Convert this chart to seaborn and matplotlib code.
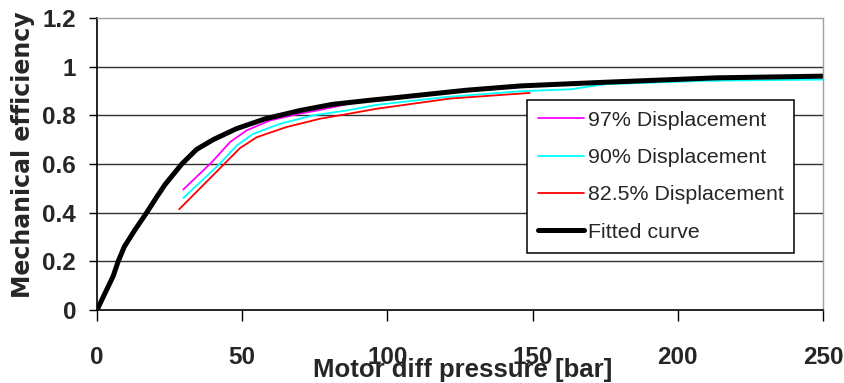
import matplotlib
matplotlib.use("Agg")
import matplotlib.pyplot as plt
import seaborn as sns
from matplotlib import font_manager

# ---- data ----
fit_pressure = [0, 2.8, 5.6, 7.3, 9.4, 13.1, 17.1, 20.6, 23.4, 29.2, 34.3, 40, 48, 58, 70, 81,
                94, 104, 127, 146, 173, 194, 213, 250]
fit_eff = [0, 0.07, 0.14, 0.20, 0.26, 0.33, 0.40, 0.465, 0.515, 0.60, 0.66, 0.70, 0.745, 0.786,
           0.82, 0.845, 0.862, 0.874, 0.903, 0.921, 0.935, 0.945, 0.954, 0.961]

d97_pressure = [29.7, 39.5, 45.8, 51.5, 59.6, 69.9, 76.8, 90, 110, 130, 150]
d97_eff = [0.495, 0.607, 0.69, 0.738, 0.779, 0.807, 0.822, 0.856, 0.886, 0.905, 0.918]

d90_pressure = [29.7, 42.2, 48.1, 53.8, 63, 74.5, 86, 96.3, 120, 145.7, 163, 175, 210, 250]
d90_eff = [0.46, 0.60, 0.676, 0.724, 0.765, 0.80, 0.82, 0.843, 0.875, 0.899, 0.907, 0.928, 0.942, 0.947]

d825_pressure = [28.3, 43.8, 49.2, 55, 65.3, 76.8, 86, 96.3, 121.6, 149]
d825_eff = [0.414, 0.60, 0.665, 0.71, 0.752, 0.786, 0.805, 0.827, 0.869, 0.892]

series_labels = ["97% Displacement", "90% Displacement", "82.5% Displacement", "Fitted curve"]
x_ticks = [0, 50, 100, 150, 200, 250]
y_ticks = [0, 0.2, 0.4, 0.6, 0.8, 1.0, 1.2]
y_tick_labels = ["0", "0.2", "0.4", "0.6", "0.8", "1", "1.2"]
x_label = "Motor diff pressure [bar]"
y_label = "Mechanical efficiency"

# ---- style ----
sns.set_style("white")
names = {f.name for f in font_manager.fontManager.ttflist}
narrow = None
for n in ["Liberation Sans Narrow", "DejaVu Sans Condensed"]:
    if n in names:
        narrow = n
        break
plt.rcParams["font.family"] = ["Liberation Sans", "DejaVu Sans"]

fig = plt.figure(figsize=(8.45, 3.83), dpi=100)
W, H = 845, 383
L, R, T, B = 97, 823, 18, 310
ax = fig.add_axes([L / W, 1 - B / H, (R - L) / W, (B - T) / H])

sns.lineplot(x=d97_pressure, y=d97_eff, ax=ax, color="#FF00FF", lw=1.3, label=series_labels[0],
             sort=False, estimator=None)
sns.lineplot(x=d90_pressure, y=d90_eff, ax=ax, color="#00FFFF", lw=1.3, label=series_labels[1],
             sort=False, estimator=None)
sns.lineplot(x=d825_pressure, y=d825_eff, ax=ax, color="#FF0000", lw=1.3, label=series_labels[2],
             sort=False, estimator=None)
sns.lineplot(x=fit_pressure, y=fit_eff, ax=ax, color="black", lw=3.6, label=series_labels[3],
             sort=False, estimator=None)

ax.set_xlim(0, 250)
ax.set_ylim(0, 1.2)
ax.set_xticks(x_ticks)
ax.set_yticks(y_ticks)
ax.set_yticklabels(y_tick_labels)

for y in y_ticks[1:-1]:
    ax.axhline(y, color="#303030", lw=1.0, zorder=0.5)

for s in ["left", "bottom"]:
    ax.spines[s].set_color("black")
    ax.spines[s].set_linewidth(1.2)
for s in ["top", "right"]:
    ax.spines[s].set_color("#a0a0a0")
    ax.spines[s].set_linewidth(1.0)

ax.tick_params(axis="y", direction="out", length=6, width=1.0, color="black", pad=9, left=True)
ax.tick_params(axis="x", direction="out", length=8, width=1.0, color="black", pad=18, bottom=True)

if narrow:
    xt_font = dict(family=narrow, weight="bold", size=20)
    xl_font = dict(family=narrow, weight="bold", size=22)
else:
    xt_font = dict(family="Liberation Sans", weight="bold", size=17.5)
    xl_font = dict(family="Liberation Sans", weight="bold", size=18.5)

for lab in ax.get_xticklabels():
    lab.set_fontproperties(font_manager.FontProperties(**xt_font))
for lab in ax.get_yticklabels():
    lab.set_fontproperties(font_manager.FontProperties(family="Liberation Sans", weight="bold", size=17.5))

ax.set_xlabel(x_label, fontproperties=font_manager.FontProperties(**xl_font), va="baseline")
ax.xaxis.set_label_coords((463 - L) / (R - L), (B - 377) / (B - T))
ax.set_ylabel(y_label, fontproperties=font_manager.FontProperties(family="DejaVu Sans", weight="bold", size=17),
              va="center")
ax.yaxis.set_label_coords((23 - L) / (R - L), (B - 155) / (B - T))

leg = ax.legend(loc="upper left", bbox_to_anchor=(527 / W, 1 - 100 / H), bbox_transform=fig.transFigure,
                borderaxespad=0, frameon=True, fancybox=False, framealpha=1, edgecolor="black",
                prop=font_manager.FontProperties(family="Liberation Sans", size=15.4),
                borderpad=0.5, labelspacing=0.86, handlelength=2.15, handletextpad=0.19)
leg.get_frame().set_linewidth(1.1)

fig.savefig("out.png", dpi=100)
